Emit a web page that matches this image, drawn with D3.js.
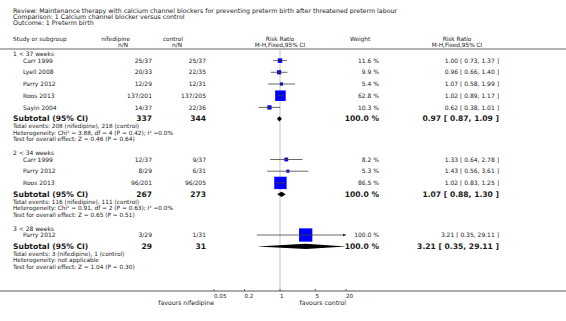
<!DOCTYPE html>
<html>
<head>
<meta charset="utf-8">
<script src="https://cdn.jsdelivr.net/npm/d3@7"></script>
<style>
  body { margin: 0; background: #fff; }
  svg { display: block; font-family: "DejaVu Sans", sans-serif; }
</style>
</head>
<body>
<div id="chart"></div>
<script>
// ---- data ----
const titleLines = [
    "Review:  Maintenance therapy with calcium channel blockers for preventing preterm birth after threatened preterm labour",
    "Comparison:  1 Calcium channel blocker versus control",
    "Outcome:  1 Preterm birth"
];
const groupNames = ["1 < 37 weeks", "2 < 34 weeks", "3 < 28 weeks"];
const studyNames = [
    ["Carr 1999", "Lyell 2008", "Parry 2012", "Roos 2013", "Sayin 2004"],
    ["Carr 1999", "Parry 2012", "Roos 2013"],
    ["Parry 2012"]
];
const treatEvents = [["25/37", "20/33", "12/29", "137/201", "14/37"], ["12/37", "8/29", "96/201"], ["3/29"]];
const ctrlEvents  = [["25/37", "22/35", "12/31", "137/205", "22/36"], ["9/37", "6/31", "96/205"], ["1/31"]];
const weights = [[11.6, 9.9, 5.4, 62.8, 10.3], [8.2, 5.3, 86.5], [100.0]];
const rr      = [[1.00, 0.96, 1.07, 1.02, 0.62], [1.33, 1.43, 1.02], [3.21]];
const rrLow   = [[0.73, 0.66, 0.58, 0.89, 0.38], [0.64, 0.56, 0.83], [0.35]];
const rrHigh  = [[1.37, 1.40, 1.99, 1.17, 1.01], [2.78, 3.61, 1.25], [29.11]];
const subTreatN = [337, 267, 29];
const subCtrlN  = [344, 273, 31];
const subRR     = [0.97, 1.07, 3.21];
const subLow    = [0.87, 0.88, 0.35];
const subHigh   = [1.09, 1.30, 29.11];
const footnotes = [
    ["Total events: 208 (nifedipine), 218 (control)",
     "Heterogeneity: Chi\u00b2 = 3.88, df = 4 (P = 0.42); I\u00b2 =0.0%",
     "Test for overall effect: Z = 0.46 (P = 0.64)"],
    ["Total events: 116 (nifedipine), 111 (control)",
     "Heterogeneity: Chi\u00b2 = 0.91, df = 2 (P = 0.63); I\u00b2 =0.0%",
     "Test for overall effect: Z = 0.65 (P = 0.51)"],
    ["Total events: 3 (nifedipine), 1 (control)",
     "Heterogeneity: not applicable",
     "Test for overall effect: Z = 1.04 (P = 0.30)"]
];
const axisTicks = [0.05, 0.2, 1, 5, 20];
const favourLeft = "favours nifedipine";
const favourRight = "favours control";

// ---- layout ----
const W = 566, H = 321;
const svg = d3.select("#chart").append("svg").attr("width", W).attr("height", H);
const x = d3.scaleLog().domain([0.05, 20]).range([214, 346]);
const axisY = 291, topY = 49;
const col = { label: 13, study: 23, treat: 152, ctrl: 206, weight: 379, ci: 499, ciHead: 457 };
const fmt = d3.format(".2f");
const textCol = "#1a1a1a";
const fs = { title: 6.3, head: 5.8, row: 6.0, bold: 7.6, foot: 5.8, tick: 5.6, fav: 6.2 };

function txt(xp, yp, s, size, anchor, bold) {
    return svg.append("text").attr("x", xp).attr("y", yp).attr("dy", "0.35em")
        .attr("font-size", size).attr("text-anchor", anchor || "start")
        .attr("font-weight", bold ? "bold" : "normal").attr("fill", textCol).text(s);
}

// title
titleLines.forEach((t, i) => txt(col.label, 10.5 + i * 6.1, t, fs.title));

// header
const h1 = 39, h2 = 45;
txt(col.label, h1, "Study or subgroup", fs.head);
txt(130, h1, "nifedipine", fs.head, "end");
txt(128, h2, "n/N", fs.head, "end");
txt(183, h1, "control", fs.head, "end");
txt(182, h2, "n/N", fs.head, "end");
txt(x(1), h1, "Risk Ratio", fs.head, "middle");
txt(x(1), h2, "M-H,Fixed,95% CI", fs.head, "middle");
txt(350, h1, "Weight", fs.head);
txt(col.ciHead, h1, "Risk Ratio", fs.head, "middle");
txt(col.ciHead, h2, "M-H,Fixed,95% CI", fs.head, "middle");
svg.append("line").attr("x1", 0).attr("x2", W).attr("y1", topY).attr("y2", topY)
    .attr("stroke", "#999").attr("stroke-width", 1.5);

// reference line at RR = 1
svg.append("line").attr("x1", x(1)).attr("x2", x(1)).attr("y1", topY + 1).attr("y2", axisY)
    .attr("stroke", "#d8d8d8").attr("stroke-width", 1.5);

const plot = svg.append("g");
const ciText = (m, lo, hi) => `${fmt(m)} [ ${fmt(lo)}, ${fmt(hi)} ]`;
const [xMin, xMax] = x.range();

let cy = 54;
groupNames.forEach((g, gi) => {
    txt(col.label, cy, g, fs.row);
    cy += 6.6;
    studyNames[gi].forEach((s, si) => {
        txt(col.study, cy, s, fs.row);
        txt(col.treat, cy, treatEvents[gi][si], fs.row, "end");
        txt(col.ctrl, cy, ctrlEvents[gi][si], fs.row, "end");
        txt(col.weight, cy, weights[gi][si].toFixed(1) + " %", fs.row, "end");
        txt(col.ci, cy, ciText(rr[gi][si], rrLow[gi][si], rrHigh[gi][si]), fs.row, "end");

        const side = Math.max(3, 1.33 * Math.sqrt(weights[gi][si]));
        const cx = x(rr[gi][si]);
        plot.append("rect").attr("x", cx - side / 2).attr("y", cy - side / 2)
            .attr("width", side).attr("height", side).attr("fill", "#0000ff");
        const lo = Math.max(xMin, x(rrLow[gi][si])), hi = Math.min(xMax, x(rrHigh[gi][si]));
        plot.append("line").attr("x1", lo).attr("x2", hi).attr("y1", cy).attr("y2", cy)
            .attr("stroke", "#444").attr("stroke-width", 0.8);
        plot.append("line").attr("x1", cx).attr("x2", cx).attr("y1", cy - 1.5).attr("y2", cy + 1.5)
            .attr("stroke", "#222").attr("stroke-width", 0.6);
        if (x(rrHigh[gi][si]) > xMax) {
            plot.append("path").attr("d", `M${xMax - 3},${cy - 1.2}L${xMax},${cy}L${xMax - 3},${cy + 1.2}Z`)
                .attr("fill", "#222");
        }
        cy += 11.7;
    });
    cy -= 0.3;
    txt(col.label, cy, "Subtotal (95% CI)", fs.bold, "start", true);
    txt(col.treat, cy, subTreatN[gi], fs.bold, "end", true);
    txt(col.ctrl, cy, subCtrlN[gi], fs.bold, "end", true);
    txt(col.weight, cy, "100.0 %", fs.bold, "end", true);
    txt(col.ci, cy, ciText(subRR[gi], subLow[gi], subHigh[gi]), fs.bold, "end", true);
    const dl = Math.max(xMin, x(subLow[gi])), dr = Math.min(xMax, x(subHigh[gi])), dm = x(subRR[gi]);
    plot.append("path").attr("d", `M${dl},${cy}L${dm},${cy - 2.6}L${dr},${cy}L${dm},${cy + 2.6}Z`)
        .attr("fill", "#000");
    cy += 7.2;
    footnotes[gi].forEach(f => {
        txt(col.label, cy, f, fs.foot);
        cy += 6.7;
    });
    cy += 6.8;
});

// axis
svg.append("line").attr("x1", 0).attr("x2", W).attr("y1", axisY).attr("y2", axisY)
    .attr("stroke", "#444").attr("stroke-width", 0.9);
svg.selectAll(".tick").data(axisTicks).join("line").attr("class", "tick")
    .attr("x1", d => x(d)).attr("x2", d => x(d)).attr("y1", axisY - 2).attr("y2", axisY)
    .attr("stroke", "#444").attr("stroke-width", 0.8);
svg.selectAll(".ticklab").data(axisTicks).join("text").attr("class", "ticklab")
    .attr("x", d => x(d)).attr("y", axisY + 5).attr("dy", "0.35em")
    .attr("font-size", fs.tick).attr("fill", textCol).text(d => d);
txt(x(0.05), axisY + 11.5, favourLeft, fs.fav, "end");
txt(x(20), axisY + 11.5, favourRight, fs.fav, "end");
</script>
</body>
</html>
